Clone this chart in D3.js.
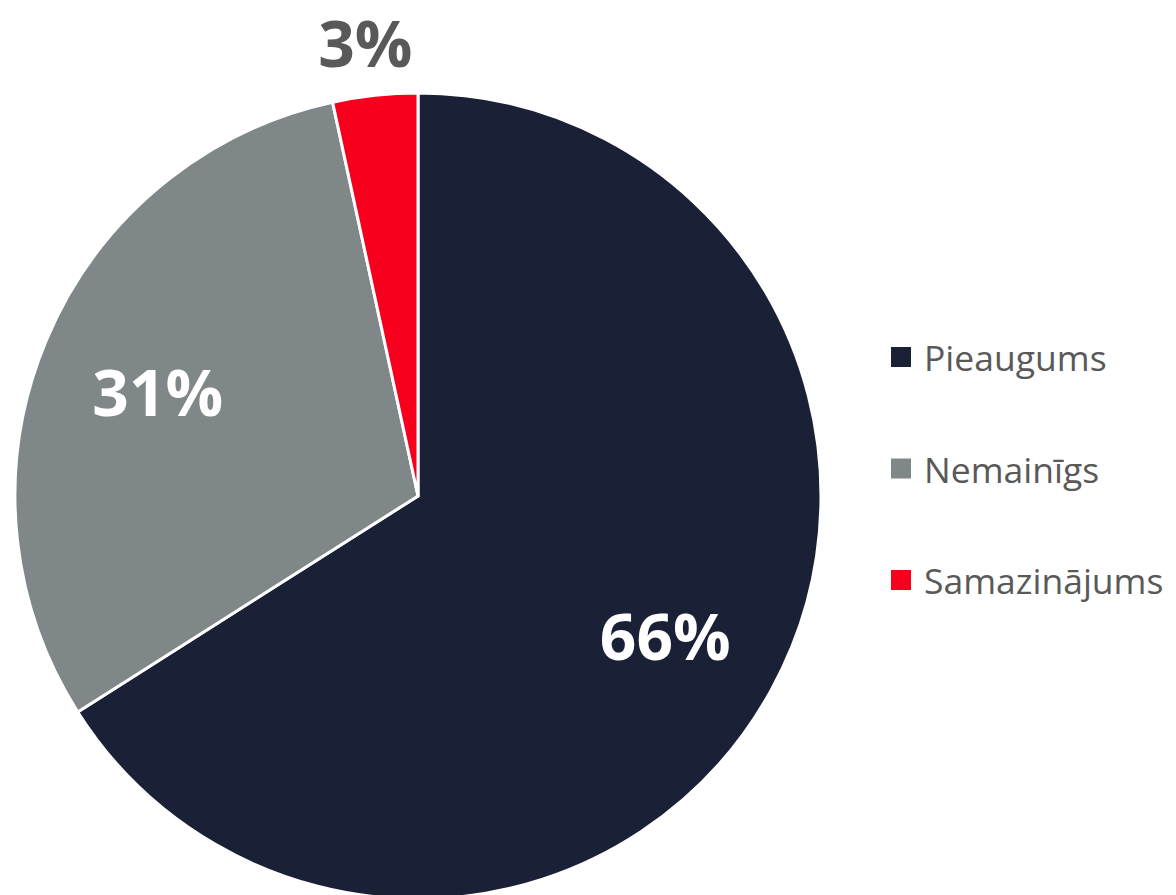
<!DOCTYPE html>
<html>
<head>
<meta charset="utf-8">
<script src="https://cdn.jsdelivr.net/npm/d3@7"></script>
<style>
  body { margin: 0; background: #fff; }
  svg { display: block; }
</style>
</head>
<body>
<div id="chart"></div>
<script>
// data
const categories = ['Pieaugums', 'Nemainīgs', 'Samazinājums'];
const shares = [66.0, 30.6, 3.4];
const labels = ['66%', '31%', '3%'];
const colors = ['#1a2035', '#7f8788', '#f7001d'];

const width = 1176, height = 895;
const cx = 418, cy = 496, radius = 403;

const svg = d3.select('#chart').append('svg')
    .attr('width', width)
    .attr('height', height);

const pie = d3.pie().sort(null).value(d => d.value);
const arcs = pie(categories.map((c, i) => ({ name: c, value: shares[i], label: labels[i], color: colors[i] })));

const arc = d3.arc().innerRadius(0).outerRadius(radius);
const labelArc = d3.arc().innerRadius(radius * 0.7).outerRadius(radius * 0.7);
const outerArc = d3.arc().innerRadius(radius + 53).outerRadius(radius + 53);

const g = svg.append('g').attr('transform', `translate(${cx},${cy})`);

g.selectAll('path')
    .data(arcs)
    .join('path')
    .attr('d', arc)
    .attr('fill', d => d.data.color)
    .attr('stroke', '#fff')
    .attr('stroke-width', 3)
    .attr('stroke-linejoin', 'round');

// small slices get their label outside the pie
g.selectAll('text.lbl')
    .data(arcs)
    .join('text')
    .attr('class', 'lbl')
    .attr('transform', d => {
        const small = d.data.value < 5;
        const [x, y] = (small ? outerArc : labelArc).centroid(d);
        return `translate(${small ? x - 4 : x},${small ? y : y + 4})`;
    })
    .attr('text-anchor', 'middle')
    .attr('dominant-baseline', 'central')
    .style('font', 'bold 64px "Open Sans", sans-serif')
    .attr('fill', d => d.data.value < 5 ? '#595959' : '#fff')
    .text(d => d.data.label);

const legend = svg.append('g').attr('transform', 'translate(891, 357)');
const legendY = d3.scalePoint().domain(categories).range([0, 223]);

const rows = legend.selectAll('g')
    .data(arcs)
    .join('g')
    .attr('transform', d => `translate(0, ${legendY(d.data.name)})`);

rows.append('rect')
    .attr('x', 0)
    .attr('y', -10)
    .attr('width', 20)
    .attr('height', 20)
    .attr('fill', d => d.data.color);

rows.append('text')
    .attr('x', 33)
    .attr('y', 0)
    .attr('dominant-baseline', 'central')
    .style('font', '35.5px "Open Sans", sans-serif')
    .attr('fill', '#595959')
    .text(d => d.data.name);
</script>
</body>
</html>
